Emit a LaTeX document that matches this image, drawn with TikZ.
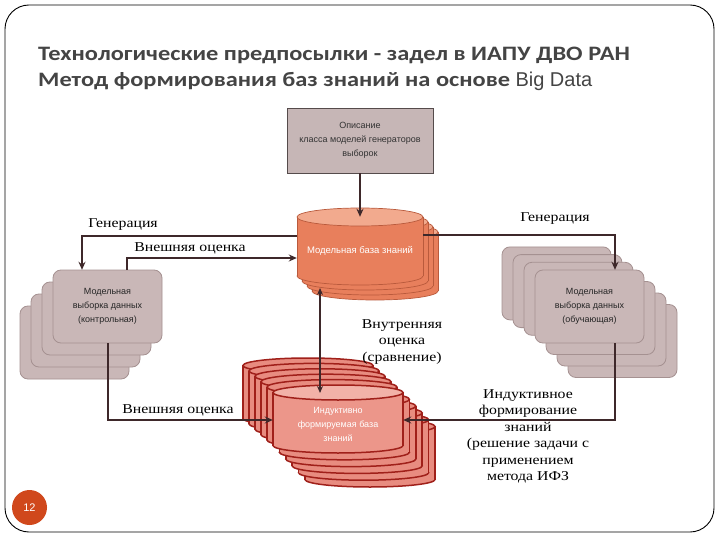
\documentclass[tikz,border=0pt]{standalone}
\usepackage{fontspec}
\setmainfont{Liberation Serif}
\newfontfamily\titlefont[FakeStretch=1.19]{Carlito}
\newfontfamily\titlesans{Liberation Sans}
\newfontfamily\boxfont{Liberation Sans}
\newfontfamily\labfont[FakeStretch=1.17]{Liberation Serif}
\usetikzlibrary{arrows.meta}
\definecolor{mauve}{RGB}{201,183,183}
\definecolor{mauveline}{RGB}{165,145,145}
\definecolor{topboxfill}{RGB}{198,182,182}
\definecolor{topboxline}{RGB}{85,75,75}
\definecolor{mdbbody}{RGB}{232,127,92}
\definecolor{mdbtop}{RGB}{242,170,142}
\definecolor{mdbline}{RGB}{185,90,60}
\definecolor{ikbbody}{RGB}{232,140,128}
\definecolor{ikbfront}{RGB}{236,150,138}
\definecolor{ikbtop}{RGB}{242,178,168}
\definecolor{ikbline}{RGB}{160,32,26}
\definecolor{conncol}{RGB}{62,40,42}
\definecolor{titlegray}{RGB}{68,68,68}
\definecolor{pgnum}{RGB}{208,72,28}
\newcommand\mycyl[9]{%
  \fill[#6,draw=#8,line width=#9] (#1,#2+#5) ellipse ({#3} and {#4});
  \fill[#6] (#1-#3,#2) rectangle (#1+#3,#2+#5);
  \draw[#8,line width=#9] (#1-#3,#2) -- (#1-#3,#2+#5) (#1+#3,#2) -- (#1+#3,#2+#5);
  \filldraw[fill=#7,draw=#8,line width=#9] (#1,#2) ellipse ({#3} and {#4});
}
\tikzset{
  conn/.style={draw=conncol, line width=2pt, -{Stealth[length=8pt,width=7pt]}},
  sbox/.style={fill=mauve, draw=mauveline, line width=0.8pt, rounded corners=8pt},
  lab/.style={font=\labfont\fontsize{13.5}{16.5}\selectfont, align=center, inner sep=0pt, text=black},
  boxtext/.style={font=\boxfont\fontsize{9}{14}\selectfont, align=center, inner sep=0pt},
  ttl/.style={anchor=base west, inner sep=0pt, text=titlegray, font=\titlefont\bfseries\fontsize{20.5}{27}\selectfont},
}
\begin{document}
\begin{tikzpicture}[x=1pt,y=-1pt]
\useasboundingbox (0,0) rectangle (720,540);
\fill[white] (0,0) rectangle (720,540);
\draw[line width=0.9pt, rounded corners=24pt] (5,5) rectangle (714,532);
% title
\node[ttl] (t1) at (38,61) {Технологические предпосылки - задел в ИАПУ ДВО РАН};
\node[ttl] (t2) at (38,87) {Метод формирования баз знаний на основе {\titlesans\mdseries\fontsize{20}{27}\selectfont Big Data}};
% top box
\node[fill=topboxfill, draw=topboxline, line width=0.8pt, minimum width=146pt, minimum height=65pt, boxtext, text=black!80] (tb) at (360,140.5) {Описание\\класса моделей генераторов\\выборок};
% model knowledge base
\foreach \k in {3,2,1} {\mycyl{360+5*\k}{217+5*\k}{63}{9}{59}{mdbbody}{mdbtop}{mdbline}{0.7pt}}
\mycyl{360}{217}{63}{9}{59}{mdbbody}{mdbtop}{mdbline}{0.7pt}
\node[inner sep=0pt, minimum width=126pt, minimum height=77pt] (mdb) at (360,246.5) {};
\node[boxtext, text=white, font=\boxfont\fontsize{9.5}{12}\selectfont] (mdbt) at (360,251) {Модельная база знаний};
% left sample stack
\foreach \k in {3,2,1} {\draw[sbox] (53-11*\k,270+12*\k) rectangle (162-11*\k,343+12*\k);}
\draw[sbox] (53,270) rectangle (162,343);
\node[inner sep=0pt, minimum width=109pt, minimum height=73pt] (lbox) at (107.5,306.5) {};
\node[boxtext, text=black!85] (lboxt) at (107.5,306.5) {Модельная\\выборка данных\\(контрольная)};
% right sample stack
\foreach \k in {3,2,1} {\draw[sbox] (535+11*\k,270+11.5*\k) rectangle (644+11*\k,343+11.5*\k);}
\foreach \k in {3,2,1} {\draw[sbox] (535-11*\k,270-7.7*\k) rectangle (644-11*\k,343-7.7*\k);}
\draw[sbox] (535,270) rectangle (644,343);
\node[inner sep=0pt, minimum width=109pt, minimum height=73pt] (rbox) at (589.5,306.5) {};
\node[boxtext, text=black!85] (rboxt) at (589.5,306.5) {Модельная\\выборка данных\\(обучающая)};
% inductive knowledge base stack
\foreach \k in {5,4,3,2,1} {\mycyl{338-6*\k}{392.5-5.4*\k}{65}{7.5}{53}{ikbbody}{ikbbody}{ikbline}{1.5pt}}
\foreach \k in {5,4,3,2,1} {\mycyl{338+6.4*\k}{392.5+6.8*\k}{65}{7.5}{53}{ikbbody}{ikbbody}{ikbline}{1.5pt}}
\mycyl{338}{392.5}{65}{7.5}{53}{ikbfront}{ikbtop}{ikbline}{1.5pt}
\node[inner sep=0pt, minimum width=130pt, minimum height=66pt] (ikb) at (338,420) {};
\node[boxtext, text=white] (ikbt) at (338,424) {Индуктивно\\формируемая база\\знаний};
% connectors
\draw[conn] (tb.south) -- ([yshift=-9pt]mdb.north);
\draw[conn] ([yshift=10.5pt]mdb.west) -| ([xshift=-25.5pt]lbox.north);
\draw[conn] ([xshift=19.5pt]lbox.north) |- ([yshift=-11.5pt]mdb.west);
\draw[conn] ([yshift=11.5pt]mdb.east) -| ([xshift=25.5pt]rbox.north);
\draw[conn] (lbox.south) |- (ikb.west);
\draw[conn] ([xshift=25.5pt]rbox.south) |- (ikb.east);
\coordinate (ia) at (320,288);
\coordinate (ib) at (320,393);
\draw[draw=conncol, line width=1.6pt, {Stealth[length=7pt,width=6pt]}-{Stealth[length=7pt,width=6pt]}] (ia) -- (ib);
% labels
\node[lab] (lg1) at (123,225) {Генерация};
\node[lab] (lv1) at (190,248) {Внешняя оценка};
\node[lab] (lg2) at (555,219) {Генерация};
\node[lab] (lv2) at (178,410) {Внешняя оценка};
\node[lab] (li) at (402,342) {Внутренняя\\оценка\\(сравнение)};
\node[lab] (lf) at (528,436.5) {Индуктивное\\формирование\\знаний\\(решение задачи с\\применением\\метода ИФЗ};
% page number
\node[circle, fill=pgnum, minimum size=35pt, inner sep=0pt, text=white, font=\boxfont\fontsize{11}{11}\selectfont] (pg) at (29.5,507.5) {12};
\end{tikzpicture}
\end{document}
